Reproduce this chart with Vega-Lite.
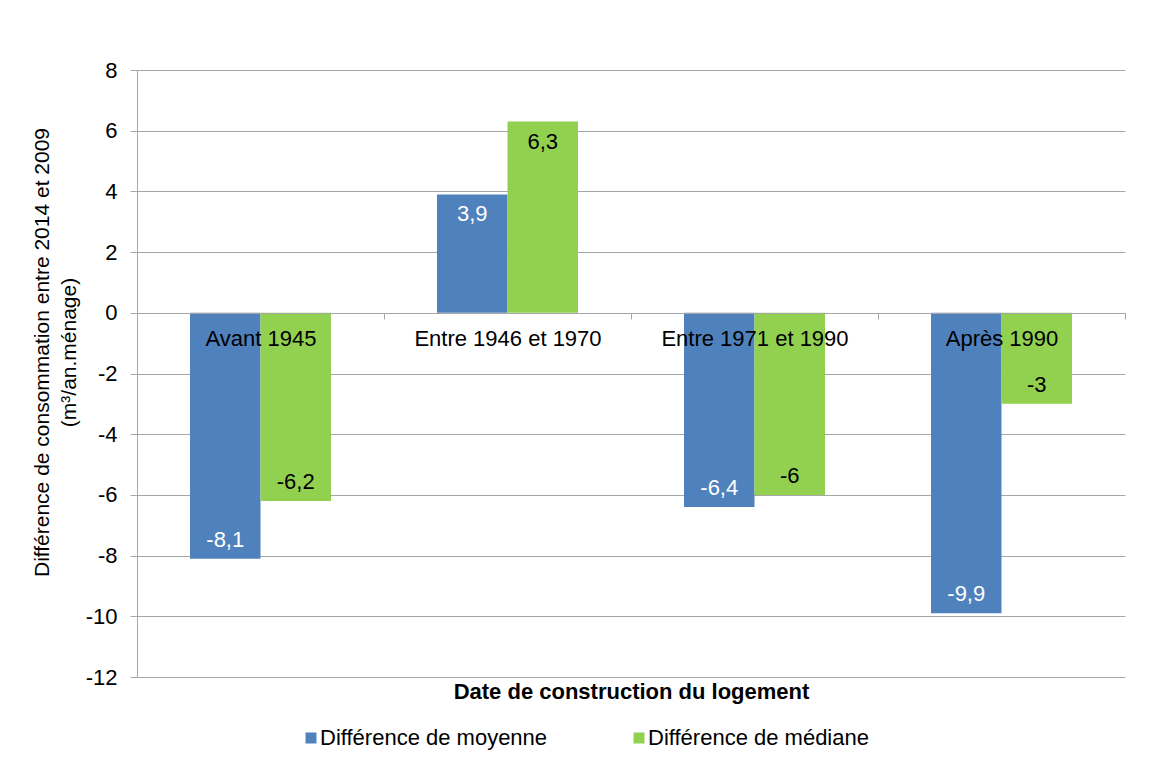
{
  "$schema": "https://vega.github.io/schema/vega-lite/v6.json",
  "autosize": {"type": "none"},
  "padding": {"left": 137, "top": 70, "right": 37, "bottom": 92},
  "width": 988,
  "height": 607,
  "background": "white",
  "config": {
    "font": "Liberation Sans",
    "view": {"stroke": null},
    "text": {"font": "Liberation Sans"}
  },
  "data": {
    "values": [
      {"categorie": "Avant 1945", "serie": "Différence de moyenne", "valeur": -8.1, "etiquette": "-8,1"},
      {"categorie": "Avant 1945", "serie": "Différence de médiane", "valeur": -6.2, "etiquette": "-6,2"},
      {"categorie": "Entre 1946 et 1970", "serie": "Différence de moyenne", "valeur": 3.9, "etiquette": "3,9"},
      {"categorie": "Entre 1946 et 1970", "serie": "Différence de médiane", "valeur": 6.3, "etiquette": "6,3"},
      {"categorie": "Entre 1971 et 1990", "serie": "Différence de moyenne", "valeur": -6.4, "etiquette": "-6,4"},
      {"categorie": "Entre 1971 et 1990", "serie": "Différence de médiane", "valeur": -6.0, "etiquette": "-6"},
      {"categorie": "Après 1990", "serie": "Différence de moyenne", "valeur": -9.9, "etiquette": "-9,9"},
      {"categorie": "Après 1990", "serie": "Différence de médiane", "valeur": -3.0, "etiquette": "-3"}
    ]
  },
  "encoding": {
    "x": {
      "field": "categorie",
      "type": "nominal",
      "sort": ["Avant 1945", "Entre 1946 et 1970", "Entre 1971 et 1990", "Après 1990"],
      "scale": {"paddingInner": 0, "paddingOuter": 0},
      "axis": {
        "title": "Date de construction du logement",
        "offset": -364,
        "zindex": 1,
        "grid": false,
        "labelAngle": 0,
        "tickBand": "extent",
        "domainColor": "#A6A6A6",
        "tickColor": "#A6A6A6",
        "tickSize": 6,
        "labelPadding": 9,
        "labelFontSize": 22,
        "labelColor": "black",
        "labelLimit": 400,
        "titleFontSize": 22,
        "titleFontWeight": "bold",
        "titleColor": "black",
        "titleY": 378,
        "titleBaseline": "middle"
      }
    },
    "xOffset": {
      "field": "serie",
      "type": "nominal",
      "scale": {"domain": ["Différence de moyenne", "Différence de médiane"], "paddingInner": 0, "paddingOuter": 0.752}
    },
    "y": {
      "field": "valeur",
      "type": "quantitative",
      "scale": {"domain": [-12, 8], "nice": false, "zero": false},
      "axis": {
        "values": [-12, -10, -8, -6, -4, -2, 0, 2, 4, 6, 8],
        "labelExpr": "replace(datum.label, '−', '-')",
        "grid": true,
        "gridColor": "#A6A6A6",
        "domainColor": "#A6A6A6",
        "tickColor": "#A6A6A6",
        "tickSize": 7,
        "labelPadding": 13,
        "labelFontSize": 22,
        "labelColor": "black",
        "title": ["Différence de consommation entre 2014 et 2009", "(m³/an.ménage)"],
        "titleFontWeight": "normal",
        "titleFontSize": 21,
        "titleColor": "black",
        "titleAngle": -90,
        "titleX": -95,
        "titleY": 282,
        "titleAlign": "center",
        "titleBaseline": "middle",
        "titleLineHeight": 27
      }
    }
  },
  "layer": [
    {
      "mark": {"type": "bar"},
      "encoding": {
        "color": {
          "field": "serie",
          "type": "nominal",
          "scale": {"domain": ["Différence de moyenne", "Différence de médiane"], "range": ["#4F81BD", "#92D050"]},
          "legend": {
            "orient": "none",
            "legendX": 163,
            "legendY": 657,
            "direction": "horizontal",
            "title": null,
            "symbolType": "square",
            "symbolSize": 121,
            "symbolStrokeWidth": 0,
            "labelFontSize": 22,
            "labelColor": "black",
            "labelLimit": 400,
            "columnPadding": 80,
            "labelOffset": -2
          }
        }
      }
    },
    {
      "transform": [{"filter": "datum.valeur > 0"}],
      "mark": {"type": "text", "baseline": "middle", "align": "center", "dy": 20, "fontSize": 22},
      "encoding": {
        "text": {"field": "etiquette"},
        "color": {"condition": {"test": "datum.serie === 'Différence de moyenne'", "value": "white"}, "value": "black"}
      }
    },
    {
      "transform": [{"filter": "datum.valeur < 0"}],
      "mark": {"type": "text", "baseline": "middle", "align": "center", "dy": -19, "fontSize": 22},
      "encoding": {
        "text": {"field": "etiquette"},
        "color": {"condition": {"test": "datum.serie === 'Différence de moyenne'", "value": "white"}, "value": "black"}
      }
    }
  ]
}
